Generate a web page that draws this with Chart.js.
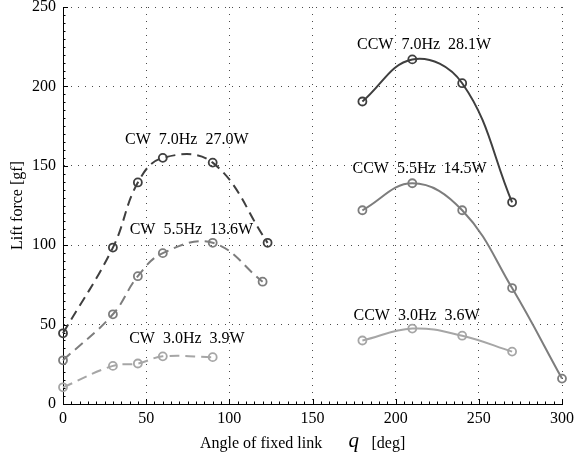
<!DOCTYPE html>
<html>
<head>
<meta charset="utf-8">
<script src="https://cdn.jsdelivr.net/npm/chart.js@4/dist/chart.umd.min.js"></script>
<style>
  html, body { margin: 0; padding: 0; background: #fff; }
  canvas { display: block; }
</style>
</head>
<body>
<canvas id="lift" width="579" height="457"></canvas>
<script>
// angles of the fixed link [deg]
const cwAngles70 = [0, 30, 45, 60, 90, 123];
const cwAngles55 = [0, 30, 45, 60, 90, 120];
const cwAngles30 = [0, 30, 45, 60, 90];
const ccwAngles70 = [180, 210, 240, 270];
const ccwAngles55 = [180, 210, 240, 270, 300];
const ccwAngles30 = [180, 210, 240, 270];

// lift force [gf]
const cwLift70 = [44.5, 98.5, 139.5, 155, 152, 101.5];
const cwLift55 = [27.5, 56.5, 80.5, 95, 101.5, 77];
const cwLift30 = [10.5, 24, 25.5, 30, 29.5];
const ccwLift70 = [190.5, 217, 202, 127];
const ccwLift55 = [122, 139, 122, 73, 16];
const ccwLift30 = [40, 47.5, 43, 33];

// run conditions printed next to each curve
const directions = ['CW', 'CW', 'CW', 'CCW', 'CCW', 'CCW'];
const frequencies = ['7.0Hz', '5.5Hz', '3.0Hz', '7.0Hz', '5.5Hz', '3.0Hz'];
const powers = ['27.0W', '13.6W', '3.9W', '28.1W', '14.5W', '3.6W'];

const xTicks = [0, 50, 100, 150, 200, 250, 300];
const yTicks = [0, 50, 100, 150, 200, 250];

// where the run labels sit (data units, centre of the baseline)
const labelAt = [[74.4, 163.8], [77.2, 106.9], [74.5, 38.2], [217.1, 223.7], [214.4, 145.7], [212.6, 52.9]];

const SERIF = "'Liberation Serif', 'DejaVu Serif', serif";
const dark = '#3f3f3f', mid = '#7d7d7d', light = '#a6a6a6';

function pts(xs, ys) {
  return xs.map((x, i) => ({x: x, y: ys[i]}));
}

function series(xs, ys, color, dashed) {
  return {
    data: pts(xs, ys),
    borderColor: color,
    borderWidth: 2,
    borderDash: dashed ? [10, 6] : [],
    tension: 0.4,
    fill: false,
    clip: false,
    pointStyle: 'circle',
    pointRadius: 4,
    pointBorderWidth: 1.8,
    pointBorderColor: color,
    pointBackgroundColor: 'rgba(0,0,0,0)'
  };
}

// inward minor/major ticks on the left and bottom axes
const axisTicks = {
  id: 'axisTicks',
  beforeDatasetsDraw(chart) {
    const {ctx, scales: {x, y}, chartArea: a} = chart;
    ctx.save();
    ctx.strokeStyle = '#000';
    ctx.lineWidth = 1;
    ctx.beginPath();
    for (let v = 0; v <= 300; v += 5) {
      const px = Math.round(x.getPixelForValue(v)) + 0.5;
      const len = v % 50 === 0 ? 5 : 2.5;
      ctx.moveTo(px, a.bottom);
      ctx.lineTo(px, a.bottom - len);
    }
    for (let v = 0; v <= 250; v += 5) {
      const py = Math.round(y.getPixelForValue(v)) + 0.5;
      const len = v % 50 === 0 ? 5 : 2.5;
      ctx.moveTo(a.left, py);
      ctx.lineTo(a.left + len, py);
    }
    ctx.stroke();
    ctx.restore();
  }
};

// run labels and the x-axis title with its italic symbol
const textLayer = {
  id: 'textLayer',
  afterDatasetsDraw(chart) {
    const {ctx, scales: {x, y}} = chart;
    ctx.save();
    ctx.fillStyle = '#000';
    ctx.font = '16px ' + SERIF;
    ctx.textAlign = 'center';
    ctx.textBaseline = 'alphabetic';
    directions.forEach((d, i) => {
      const text = d + '  ' + frequencies[i] + '  ' + powers[i];
      ctx.fillText(text, x.getPixelForValue(labelAt[i][0]), y.getPixelForValue(labelAt[i][1]));
    });

    ctx.textAlign = 'left';
    ctx.fillText('Angle of fixed link', 200, 447.5);
    ctx.font = 'italic 21px ' + SERIF;
    ctx.fillText('q', 348.5, 446.5);
    ctx.font = '16px ' + SERIF;
    ctx.fillText('[deg]', 371.5, 447.5);
    ctx.restore();
  }
};

Chart.defaults.font.family = SERIF;
Chart.defaults.font.size = 16;
Chart.defaults.color = '#000';

const gridStyle = {
  display: true,
  drawTicks: false,
  color: '#4a4a4a',
  lineWidth: 1
};

new Chart(document.getElementById('lift'), {
  type: 'line',
  data: {
    datasets: [
      series(cwAngles70, cwLift70, dark, true),
      series(cwAngles55, cwLift55, mid, true),
      series(cwAngles30, cwLift30, light, true),
      series(ccwAngles70, ccwLift70, dark, false),
      series(ccwAngles55, ccwLift55, mid, false),
      series(ccwAngles30, ccwLift30, light, false)
    ]
  },
  options: {
    responsive: false,
    animation: false,
    devicePixelRatio: 1,
    layout: { padding: { top: 7, right: 13, left: 0, bottom: 0 } },
    plugins: {
      legend: { display: false },
      tooltip: { enabled: false }
    },
    scales: {
      x: {
        type: 'linear',
        min: 0,
        max: 300,
        afterBuildTicks: s => { s.ticks = xTicks.map(v => ({value: v})); },
        ticks: { padding: 5, maxRotation: 0, autoSkip: false },
        grid: gridStyle,
        border: { display: true, color: '#000', width: 1, dash: [1, 6] },
        afterFit: s => { s.height = 53; }
      },
      y: {
        type: 'linear',
        min: 0,
        max: 250,
        afterBuildTicks: s => { s.ticks = yTicks.map(v => ({value: v})); },
        ticks: { padding: 7, autoSkip: false },
        grid: gridStyle,
        border: { display: true, color: '#000', width: 1, dash: [1, 6] },
        title: {
          display: true,
          text: 'Lift force [gf]',
          font: { size: 16 },
          padding: { top: 8, bottom: 0 }
        },
        afterFit: s => { s.width = 63; s.paddingTop = 0; }
      }
    }
  },
  plugins: [axisTicks, textLayer]
});
</script>
</body>
</html>
